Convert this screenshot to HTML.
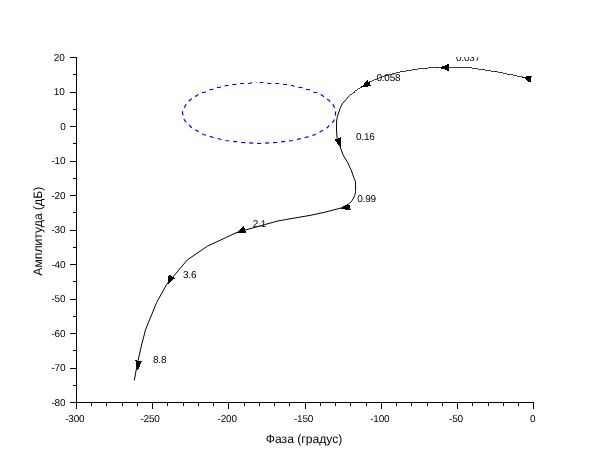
<!DOCTYPE html>
<html><head><meta charset="utf-8"><title>plot</title>
<style>
html,body{margin:0;padding:0;background:#fff;}
svg{display:block;}
text{font-family:"Liberation Sans",sans-serif;fill:#000;text-rendering:geometricPrecision;}
</style></head><body>
<svg width="610" height="460" viewBox="0 0 610 460">
<rect width="610" height="460" fill="#fff"/>
<defs><clipPath id="c"><rect x="76" y="57" width="460" height="347"/></clipPath></defs>
<g stroke="#000" stroke-width="1" fill="none" shape-rendering="crispEdges">
<line x1="76.5" y1="57.0" x2="76.5" y2="403.0"/>
<line x1="76.0" y1="402.5" x2="534.0" y2="402.5"/>
<line x1="69.5" y1="57.5" x2="76.5" y2="57.5"/>
<line x1="72.5" y1="74.5" x2="76.5" y2="74.5"/>
<line x1="69.5" y1="92.5" x2="76.5" y2="92.5"/>
<line x1="72.5" y1="109.5" x2="76.5" y2="109.5"/>
<line x1="69.5" y1="126.5" x2="76.5" y2="126.5"/>
<line x1="72.5" y1="143.5" x2="76.5" y2="143.5"/>
<line x1="69.5" y1="161.5" x2="76.5" y2="161.5"/>
<line x1="72.5" y1="178.5" x2="76.5" y2="178.5"/>
<line x1="69.5" y1="195.5" x2="76.5" y2="195.5"/>
<line x1="72.5" y1="212.5" x2="76.5" y2="212.5"/>
<line x1="69.5" y1="230.5" x2="76.5" y2="230.5"/>
<line x1="72.5" y1="247.5" x2="76.5" y2="247.5"/>
<line x1="69.5" y1="264.5" x2="76.5" y2="264.5"/>
<line x1="72.5" y1="281.5" x2="76.5" y2="281.5"/>
<line x1="69.5" y1="299.5" x2="76.5" y2="299.5"/>
<line x1="72.5" y1="316.5" x2="76.5" y2="316.5"/>
<line x1="69.5" y1="333.5" x2="76.5" y2="333.5"/>
<line x1="72.5" y1="350.5" x2="76.5" y2="350.5"/>
<line x1="69.5" y1="368.5" x2="76.5" y2="368.5"/>
<line x1="72.5" y1="385.5" x2="76.5" y2="385.5"/>
<line x1="69.5" y1="402.5" x2="76.5" y2="402.5"/>
<line x1="76.5" y1="402.5" x2="76.5" y2="408.5"/>
<line x1="91.5" y1="402.5" x2="91.5" y2="405.5"/>
<line x1="106.5" y1="402.5" x2="106.5" y2="405.5"/>
<line x1="122.5" y1="402.5" x2="122.5" y2="405.5"/>
<line x1="137.5" y1="402.5" x2="137.5" y2="405.5"/>
<line x1="152.5" y1="402.5" x2="152.5" y2="408.5"/>
<line x1="167.5" y1="402.5" x2="167.5" y2="405.5"/>
<line x1="183.5" y1="402.5" x2="183.5" y2="405.5"/>
<line x1="198.5" y1="402.5" x2="198.5" y2="405.5"/>
<line x1="213.5" y1="402.5" x2="213.5" y2="405.5"/>
<line x1="228.5" y1="402.5" x2="228.5" y2="408.5"/>
<line x1="244.5" y1="402.5" x2="244.5" y2="405.5"/>
<line x1="259.5" y1="402.5" x2="259.5" y2="405.5"/>
<line x1="274.5" y1="402.5" x2="274.5" y2="405.5"/>
<line x1="289.5" y1="402.5" x2="289.5" y2="405.5"/>
<line x1="305.5" y1="402.5" x2="305.5" y2="408.5"/>
<line x1="320.5" y1="402.5" x2="320.5" y2="405.5"/>
<line x1="335.5" y1="402.5" x2="335.5" y2="405.5"/>
<line x1="350.5" y1="402.5" x2="350.5" y2="405.5"/>
<line x1="366.5" y1="402.5" x2="366.5" y2="405.5"/>
<line x1="381.5" y1="402.5" x2="381.5" y2="408.5"/>
<line x1="396.5" y1="402.5" x2="396.5" y2="405.5"/>
<line x1="411.5" y1="402.5" x2="411.5" y2="405.5"/>
<line x1="427.5" y1="402.5" x2="427.5" y2="405.5"/>
<line x1="442.5" y1="402.5" x2="442.5" y2="405.5"/>
<line x1="457.5" y1="402.5" x2="457.5" y2="408.5"/>
<line x1="472.5" y1="402.5" x2="472.5" y2="405.5"/>
<line x1="488.5" y1="402.5" x2="488.5" y2="405.5"/>
<line x1="503.5" y1="402.5" x2="503.5" y2="405.5"/>
<line x1="518.5" y1="402.5" x2="518.5" y2="405.5"/>
<line x1="533.5" y1="402.5" x2="533.5" y2="408.5"/>
</g>
<g font-size="10px" letter-spacing="-0.2px">
<text x="64.5" y="61" text-anchor="end">20</text>
<text x="64.5" y="95" text-anchor="end">10</text>
<text x="65.5" y="130" text-anchor="end">0</text>
<text x="65.3" y="164" text-anchor="end">-10</text>
<text x="65.3" y="199" text-anchor="end">-20</text>
<text x="65.3" y="233" text-anchor="end">-30</text>
<text x="65.3" y="268" text-anchor="end">-40</text>
<text x="65.3" y="302" text-anchor="end">-50</text>
<text x="65.3" y="337" text-anchor="end">-60</text>
<text x="65.3" y="371" text-anchor="end">-70</text>
<text x="65.3" y="406" text-anchor="end">-80</text>
<text x="74.8" y="421.5" text-anchor="middle">-300</text>
<text x="150.1" y="421.5" text-anchor="middle">-250</text>
<text x="227.2" y="421.5" text-anchor="middle">-200</text>
<text x="303.5" y="421.5" text-anchor="middle">-150</text>
<text x="379.8" y="421.5" text-anchor="middle">-100</text>
<text x="456.0" y="421.5" text-anchor="middle">-50</text>
<text x="532.8" y="421.5" text-anchor="middle">0</text>
</g>
<text x="304.1" y="442.6" font-size="12.15px" text-anchor="middle">Фаза (градус)</text>
<text transform="translate(42,231.2) rotate(-90)" font-size="12.2px" text-anchor="middle">Амплитуда (дБ)</text>
<g clip-path="url(#c)">
<polyline fill="none" stroke="#0000ff" stroke-width="1.2" stroke-dasharray="4 4" points="259.5,82.5 261.5,82.5 264.5,82.5 266.5,82.5 268.5,83.5 271.5,83.5 273.5,83.5 275.5,83.5 278.5,83.5 280.5,83.5 282.5,84.5 285.5,84.5 287.5,84.5 289.5,85.5 292.5,85.5 294.5,86.5 296.5,86.5 299.5,87.5 301.5,87.5 303.5,88.5 305.5,89.5 308.5,89.5 310.5,90.5 312.5,91.5 314.5,92.5 316.5,92.5 318.5,93.5 320.5,94.5 322.5,95.5 324.5,97.5 325.5,98.5 327.5,99.5 329.5,100.5 330.5,102.5 332.5,103.5 333.5,105.5 334.5,107.5 335.5,109.5 335.5,111.5 335.5,113.5 335.5,115.5 334.5,118.5 333.5,121.5 330.5,123.5 327.5,127.5 322.5,130.5 315.5,134.5 305.5,137.5 292.5,140.5 276.5,142.5 259.5,143.5 241.5,142.5 225.5,140.5 213.5,137.5 203.5,134.5 196.5,130.5 191.5,127.5 187.5,123.5 185.5,121.5 183.5,118.5 183.5,115.5 182.5,113.5 182.5,111.5 183.5,109.5 184.5,107.5 185.5,105.5 186.5,103.5 187.5,102.5 189.5,100.5 190.5,99.5 192.5,98.5 194.5,97.5 196.5,95.5 198.5,94.5 200.5,93.5 202.5,92.5 204.5,92.5 206.5,91.5 208.5,90.5 210.5,89.5 212.5,89.5 214.5,88.5 217.5,87.5 219.5,87.5 221.5,86.5 223.5,86.5 226.5,85.5 228.5,85.5 230.5,84.5 233.5,84.5 235.5,84.5 237.5,83.5 240.5,83.5 242.5,83.5 244.5,83.5 247.5,83.5 249.5,83.5 252.5,82.5 254.5,82.5 256.5,82.5"/><polyline fill="none" stroke="#000" stroke-width="1" stroke-linejoin="round" points="529.5,78.5 528.5,78.5 527.5,77.5 526.5,77.5 525.5,77.5 524.5,77.5 523.5,77.5 521.5,76.5 520.5,76.5 519.5,76.5 518.5,76.5 517.5,76.5 516.5,75.5 515.5,75.5 514.5,75.5 513.5,75.5 512.5,74.5 511.5,74.5 510.5,74.5 509.5,74.5 507.5,74.5 506.5,73.5 505.5,73.5 504.5,73.5 503.5,73.5 502.5,72.5 501.5,72.5 500.5,72.5 499.5,72.5 498.5,72.5 497.5,71.5 496.5,71.5 494.5,71.5 493.5,71.5 492.5,71.5 491.5,71.5 490.5,70.5 489.5,70.5 488.5,70.5 487.5,70.5 486.5,70.5 485.5,70.5 484.5,69.5 482.5,69.5 481.5,69.5 480.5,69.5 479.5,69.5 478.5,69.5 477.5,68.5 476.5,68.5 475.5,68.5 474.5,68.5 473.5,68.5 472.5,68.5 471.5,67.5 469.5,67.5 468.5,67.5 467.5,67.5 466.5,67.5 465.5,67.5 464.5,67.5 463.5,67.5 462.5,67.5 461.5,67.5 460.5,67.5 458.5,67.5 457.5,67.5 456.5,67.5 455.5,67.5 454.5,67.5 453.5,67.5 452.5,67.5 451.5,67.5 450.5,67.5 449.5,67.5 447.5,67.5 446.5,67.5 445.5,67.5 444.5,67.5 443.5,67.5 442.5,67.5 441.5,67.5 440.5,67.5 439.5,67.5 438.5,67.5 436.5,67.5 435.5,67.5 434.5,67.5 433.5,67.5 432.5,67.5 431.5,67.5 430.5,67.5 429.5,67.5 428.5,67.5 427.5,68.5 425.5,68.5 424.5,68.5 423.5,68.5 422.5,68.5 421.5,68.5 420.5,68.5 419.5,68.5 418.5,68.5 417.5,69.5 416.5,69.5 415.5,69.5 413.5,69.5 412.5,69.5 411.5,70.5 410.5,70.5 409.5,70.5 408.5,70.5 407.5,70.5 406.5,70.5 405.5,71.5 404.5,71.5 403.5,71.5 402.5,71.5 400.5,71.5 399.5,72.5 398.5,72.5 397.5,72.5 396.5,72.5 395.5,73.5 394.5,73.5 393.5,73.5 392.5,73.5 391.5,74.5 390.5,74.5 389.5,74.5 388.5,75.5 387.5,75.5 386.5,75.5 385.5,75.5 383.5,76.5 382.5,76.5 381.5,77.5 380.5,77.5 379.5,77.5 378.5,78.5 377.5,78.5 376.5,79.5 375.5,79.5 374.5,79.5 373.5,80.5 372.5,80.5 371.5,81.5 370.5,81.5 369.5,81.5 368.5,82.5 367.5,83.5 366.5,83.5 366.5,84.5 365.5,85.5 364.5,85.5 363.5,86.5 362.5,86.5 361.5,87.5 360.5,87.5 359.5,88.5 358.5,88.5 357.5,89.5 356.5,90.5 355.5,90.5 354.5,91.5 354.5,92.5 353.5,92.5 352.5,93.5 351.5,94.5 350.5,94.5 349.5,95.5 345.7,100 342.8,103.1 340.5,107.3 338.9,112.1 337.3,116.8 336.6,121 336.5,130 337.1,138.6 339.9,146.1 343,154.8 347.4,162 351.1,169.9 354.2,178.5 355.5,181.8 355.6,191.5 354.7,195.7 352,200.8 348.5,204.2 341.1,208.0 324.9,212.2 310,215.4 285.6,219.6 277.7,221.0 264.4,224.7 246.1,229.8 236.1,232.8 207.5,246.1 187.3,259.9 166.8,284.2 156.6,302.5 145.5,329.8 141.1,347 137.1,364.9 134.3,380.5"/>
<polygon fill="#000" shape-rendering="crispEdges" points="522,77 526,77 526,76 532,76 532,77 531,77 531,82 528.3,82 524.3,78 522,78"/>
<polygon fill="#000" shape-rendering="crispEdges" points="441,67 442,67 442,66 445,66 445,65 447,65 447,64 449,64 449,71 447,71 447,70 445,70 445,69 441,69"/>
<polygon fill="#000" shape-rendering="crispEdges" points="367,80 367,81 366,81 366,82 365,82 365,83 364,83 364,84 364,84 364,85 363,85 363,86 361,86 361,87 368,87 368,86 371,86 371,85 370,85 370,84 370,84 370,83 370,83 370,82 368,82 368,81 368,81 368,80"/>
<polygon fill="#000" shape-rendering="crispEdges" points="340,137 340,138 338,138 338,139 335,139 335,140 335,140 335,141 336,141 336,142 337,142 337,143 337,143 337,144 338,144 338,145 339,145 339,146 340,146 340,147 341,147 341,146 341,146 341,145 341,145 341,144 341,144 341,143 341,143 341,142 341,142 341,141 341,141 341,140 341,140 341,139 341,139 341,138 341,138 341,137"/>
<polygon fill="#000" shape-rendering="crispEdges" points="340,208.4 347.5,204.2 350,205 350.6,209.8 345,210 345,209"/>
<polygon fill="#000" shape-rendering="crispEdges" points="243,226 243,227 242,227 242,228 241,228 241,229 240,229 240,230 239,230 239,231 238,231 238,232 236,232 236,233 246,233 246,232 246,232 246,231 245,231 245,230 245,230 245,229 245,229 245,228 244,228 244,227 244,227 244,226"/>
<polygon fill="#000" shape-rendering="crispEdges" points="169,275 169,276 168,276 168,277 168,277 168,278 168,278 168,279 168,279 168,280 168,280 168,281 168,281 168,282 168,282 168,283 167,283 167,284 169,284 169,283 170,283 170,282 171,282 171,281 172,281 172,280 173,280 173,279 175,279 175,278 174,278 174,277 172,277 172,276 171,276 171,275"/>
<polygon fill="#000" shape-rendering="crispEdges" points="135,360.2 142,361.3 141,363 138.2,369.9 137.2,369.9 136.3,366 136.2,361"/>
<g font-size="10px" letter-spacing="-0.2px">
<text x="456" y="60.5">0.037</text>
<text x="376.4" y="81">0.058</text>
<text x="356" y="140">0.16</text>
<text x="357.2" y="201.7">0.99</text>
<text x="252.8" y="227.1">2.1</text>
<text x="183" y="277.6">3.6</text>
<text x="153" y="363.2">8.8</text>
</g>
</g>
</svg>
</body></html>
